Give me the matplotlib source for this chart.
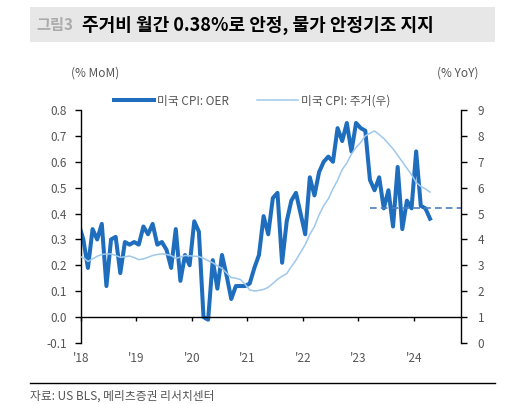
import matplotlib
matplotlib.use('Agg')
import matplotlib.pyplot as plt
from matplotlib.patches import Rectangle
from matplotlib.lines import Line2D

plt.rcParams['font.family'] = ['Noto Sans CJK KR', 'DejaVu Sans']

# 월별 데이터 (2017.12 ~ 2024.04), month index 0 = 2018.01
oer_months = list(range(-1, 76))
oer_mom = [0.36, 0.30, 0.19, 0.34, 0.30, 0.36, 0.12, 0.30, 0.31, 0.17,
           0.29, 0.28, 0.29, 0.28, 0.35, 0.32, 0.36, 0.28, 0.29, 0.26,
           0.19, 0.34, 0.14, 0.24, 0.20, 0.37, 0.33, 0.00, -0.01, 0.22,
           0.11, 0.24, 0.16, 0.07, 0.12, 0.12, 0.12, 0.13, 0.19, 0.24,
           0.39, 0.32, 0.46, 0.48, 0.21, 0.37, 0.45, 0.48, 0.40, 0.32,
           0.54, 0.47, 0.56, 0.60, 0.62, 0.60, 0.73, 0.68, 0.75, 0.64,
           0.75, 0.73, 0.72, 0.53, 0.49, 0.54, 0.42, 0.49, 0.35, 0.58,
           0.34, 0.45, 0.42, 0.64, 0.43, 0.42, 0.38]

shelter_months = list(range(-1, 76))
shelter_yoy = [3.35, 3.30, 3.15, 3.25, 3.35, 3.42, 3.44, 3.44, 3.38, 3.31,
               3.33, 3.36, 3.30, 3.22, 3.25, 3.31, 3.38, 3.42, 3.44, 3.42,
               3.38, 3.27, 3.32, 3.38, 3.37, 3.35, 3.34, 3.27, 3.18, 3.10,
               2.98, 2.88, 2.70, 2.53, 2.50, 2.45, 2.27, 2.05, 2.01, 2.03,
               2.07, 2.15, 2.30, 2.46, 2.58, 2.68, 2.95, 3.20, 3.50, 3.80,
               4.20, 4.50, 4.95, 5.30, 5.57, 5.95, 6.29, 6.70, 6.95, 7.30,
               7.55, 7.75, 8.00, 8.10, 8.19, 8.05, 7.90, 7.70, 7.50, 7.25,
               7.00, 6.75, 6.50, 6.20, 6.05, 5.95, 5.83]

year_labels = ["'18", "'19", "'20", "'21", "'22", "'23", "'24"]
avg_level = 0.42     # 점선 수준
avg_start = 62.6     # 점선 시작 (month index)

dark = '#1f6ebe'
light = '#9ec8ec'
grey = '#555555'

fig = plt.figure(figsize=(5.19, 4.04), dpi=100)
ax = fig.add_axes([81 / 519, 1 - 343 / 404, 380 / 519, 233 / 404])
ax2 = ax.twinx()

x_oer = [m + 0.5 for m in oer_months]
x_sh = [m + 0.5 for m in shelter_months]
l1, = ax.plot(x_oer, oer_mom, color=dark, linewidth=2.9, solid_joinstyle='round')
l2, = ax2.plot(x_sh, shelter_yoy, color=light, linewidth=1.1)
xmax = 82.2
ax.hlines(avg_level, avg_start, xmax, colors='#4a7fc0', linestyles=(0, (4, 2.5)), linewidth=1.2)

ax.set_xlim(0, xmax)
ax.set_ylim(-0.1, 0.8)
ax2.set_ylim(0, 9)
ax.set_yticks([i / 10 for i in range(-1, 9)])
ax.set_yticklabels(['%.1f' % (i / 10) for i in range(-1, 9)])
ax2.set_yticks(range(0, 10))
ax.set_xticks([12 * i for i in range(len(year_labels))])
ax.set_xticklabels(year_labels)

for s in ['top', 'right']:
    ax.spines[s].set_visible(False)
ax.spines['bottom'].set_position(('data', 0))
for s in ['top', 'left', 'bottom']:
    ax2.spines[s].set_visible(False)
for a in (ax, ax2):
    for s in a.spines.values():
        s.set_linewidth(1.0)

ax.tick_params(axis='y', direction='out', length=4, width=1, labelsize=8.5, labelcolor=grey, pad=6)
ax2.tick_params(axis='y', direction='out', length=4, width=1, labelsize=8.5, labelcolor=grey, pad=8)
ax.tick_params(axis='x', direction='out', length=3, width=1, labelsize=8.5, labelcolor=grey, pad=22)

fig.text(95 / 519, 1 - 73 / 404, '(% MoM)', ha='center', va='center', fontsize=8.5, color=grey)
fig.text(458 / 519, 1 - 73 / 404, '(% YoY)', ha='center', va='center', fontsize=8.5, color=grey)

ax.legend(handles=[l1, Line2D([], [], color=light, linewidth=1.1)],
          labels=['미국 CPI: OER', '미국 CPI: 주거(우)'],
          ncol=2, frameon=False, fontsize=8.5, handlelength=3.4, handletextpad=0.25,
          columnspacing=2.4, loc='center', bbox_to_anchor=(252 / 519, 1 - 101 / 404),
          bbox_transform=fig.transFigure, labelcolor=grey)

# 제목 박스
fig.patches.append(Rectangle((30 / 519, 1 - 42 / 404), 465 / 519, 35 / 404,
                             transform=fig.transFigure, facecolor='#e7e7e7', edgecolor='none'))
fig.text(36 / 519, 1 - 25 / 404, '그림3', ha='left', va='center', fontsize=11,
         fontweight='bold', color='#ababab')
fig.text(82 / 519, 1 - 25 / 404, '주거비 월간 0.38%로 안정, 물가 안정기조 지지', ha='left',
         va='center', fontsize=13, fontweight='bold', color='black')

# 하단 출처
fig.add_artist(Line2D([30 / 519, 495 / 519], [1 - 383 / 404, 1 - 383 / 404],
                      transform=fig.transFigure, color='black', linewidth=1.0))
fig.text(30 / 519, 1 - 396 / 404, '자료: US BLS, 메리츠증권 리서치센터', ha='left', va='center',
         fontsize=8.5, color=grey)

fig.savefig('out.png', dpi=100)
